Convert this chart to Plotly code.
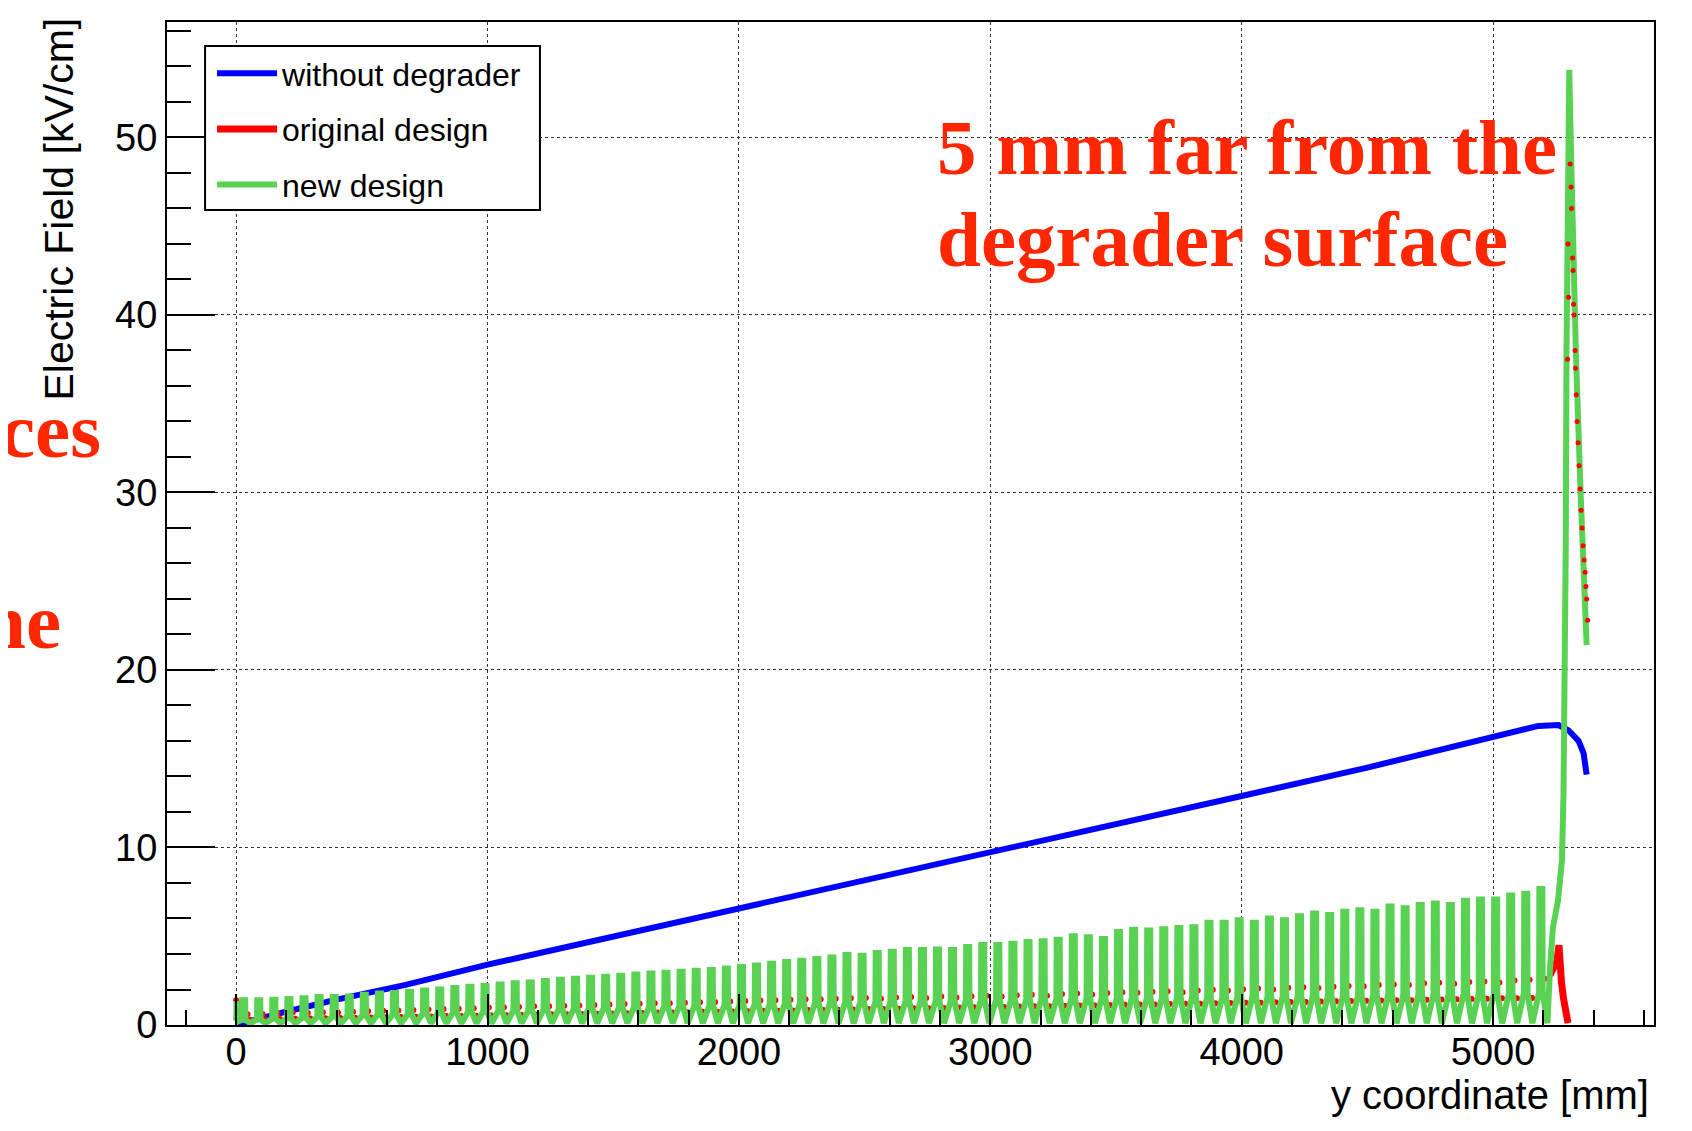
import plotly.graph_objects as go

# without degrader
blue_x = [0, 75, 190, 390, 670, 1000, 1500, 2000, 2500, 3000, 3500, 4000, 4500,
          4950, 5100, 5180, 5260, 5300, 5340, 5360, 5372]
blue_y = [0.0, 0.3, 0.72, 1.4, 2.25, 3.4, 4.97, 6.55, 8.15, 9.72, 11.3, 12.9, 14.5,
          16.05, 16.55, 16.85, 16.9, 16.6, 16.0, 15.3, 14.1]

# new design: one spike per electrode ring
spike_x = [30, 90, 150, 210, 270, 330, 390, 450, 510, 570,
           630, 690, 750, 810, 870, 930, 990, 1050, 1110, 1170,
           1230, 1290, 1350, 1410, 1470, 1530, 1590, 1650, 1710, 1770,
           1830, 1890, 1950, 2010, 2070, 2130, 2190, 2250, 2310, 2370,
           2430, 2490, 2550, 2610, 2670, 2730, 2790, 2850, 2910, 2970,
           3030, 3090, 3150, 3210, 3270, 3330, 3390, 3450, 3510, 3570,
           3630, 3690, 3750, 3810, 3870, 3930, 3990, 4050, 4110, 4170,
           4230, 4290, 4350, 4410, 4470, 4530, 4590, 4650, 4710, 4770,
           4830, 4890, 4950, 5010, 5070, 5130, 5190]
green_peak = [1.40, 1.40, 1.42, 1.46, 1.50, 1.58, 1.58, 1.60, 1.70, 1.78,
              1.80, 1.88, 1.95, 2.00, 2.08, 2.15, 2.20, 2.28, 2.35, 2.40,
              2.48, 2.55, 2.60, 2.66, 2.72, 2.78, 2.85, 2.90, 2.95, 3.00,
              3.05, 3.10, 3.18, 3.27, 3.35, 3.45, 3.55, 3.62, 3.72, 3.80,
              3.94, 3.90, 4.05, 4.12, 4.22, 4.22, 4.25, 4.22, 4.40, 4.50,
              4.50, 4.58, 4.67, 4.72, 4.80, 5.00, 4.95, 4.85, 5.24, 5.36,
              5.32, 5.40, 5.46, 5.50, 5.76, 5.76, 5.90, 5.76, 6.00, 5.90,
              6.12, 6.28, 6.20, 6.38, 6.47, 6.38, 6.67, 6.57, 6.76, 6.85,
              6.76, 7.00, 7.07, 7.07, 7.30, 7.40, 7.66]
green_base = [0.30, 0.32, 0.35, 0.38, 0.42, 0.45, 0.48, 0.50, 0.55, 0.58,
              0.60, 0.62, 0.66, 0.70, 0.72, 0.75, 0.78, 0.80, 0.82, 0.85,
              0.88, 0.90, 0.92, 0.95, 0.98, 1.00, 1.02, 1.04, 1.06, 1.08,
              1.10, 1.12, 1.14, 1.16, 1.18, 1.20, 1.22, 1.24, 1.26, 1.28,
              1.30, 1.30, 1.32, 1.34, 1.36, 1.36, 1.38, 1.38, 1.40, 1.42,
              1.42, 1.44, 1.45, 1.46, 1.48, 1.50, 1.50, 1.50, 1.52, 1.54,
              1.54, 1.55, 1.56, 1.56, 1.58, 1.58, 1.60, 1.60, 1.62, 1.62,
              1.64, 1.65, 1.65, 1.66, 1.68, 1.68, 1.70, 1.70, 1.72, 1.74,
              1.74, 1.76, 1.78, 1.78, 1.80, 1.82, 1.85]
green_trough = 0.1
green_head_x = [0, 2, 8]
green_head_y = [0.25, 1.35, 0.2]
green_tail_x = [5226, 5238, 5258, 5274, 5280, 5285, 5289, 5292, 5296, 5303,
                5310, 5318, 5330, 5348, 5360, 5372]
green_tail_y = [3.1, 5.5, 7.0, 9.3, 13.0, 18.0, 27.0, 38.0, 48.0, 53.8,
                49.0, 44.0, 37.5, 30.0, 25.5, 21.4]

# original design
red_hi = [0.60, 0.62, 0.65, 0.70, 0.68, 0.72, 0.70, 0.75, 0.78, 0.80,
          0.82, 0.85, 0.88, 0.90, 0.92, 0.95, 0.98, 1.00, 1.02, 1.05,
          1.05, 1.08, 1.10, 1.12, 1.15, 1.18, 1.20, 1.22, 1.22, 1.25,
          1.28, 1.30, 1.32, 1.35, 1.38, 1.40, 1.42, 1.45, 1.45, 1.48,
          1.50, 1.52, 1.48, 1.55, 1.58, 1.52, 1.60, 1.55, 1.62, 1.65,
          1.60, 1.68, 1.70, 1.65, 1.75, 1.78, 1.72, 1.80, 1.85, 1.82,
          1.88, 1.90, 1.85, 1.95, 1.98, 1.95, 2.02, 2.05, 2.00, 2.10,
          2.12, 2.08, 2.15, 2.20, 2.18, 2.25, 2.28, 2.25, 2.35, 2.38,
          2.32, 2.42, 2.45, 2.40, 2.50, 2.55, 2.60]
red_lo = [0.30, 0.32, 0.34, 0.35, 0.36, 0.38, 0.40, 0.40, 0.42, 0.44,
          0.45, 0.46, 0.48, 0.50, 0.50, 0.52, 0.54, 0.55, 0.56, 0.58,
          0.60, 0.60, 0.62, 0.64, 0.65, 0.66, 0.68, 0.70, 0.70, 0.72,
          0.74, 0.75, 0.76, 0.78, 0.80, 0.80, 0.82, 0.84, 0.85, 0.86,
          0.88, 0.90, 0.90, 0.92, 0.94, 0.95, 0.96, 0.98, 1.00, 1.00,
          1.02, 1.04, 1.05, 1.06, 1.08, 1.10, 1.10, 1.12, 1.14, 1.15,
          1.16, 1.18, 1.20, 1.20, 1.22, 1.24, 1.25, 1.26, 1.28, 1.30,
          1.30, 1.32, 1.34, 1.35, 1.36, 1.38, 1.40, 1.40, 1.42, 1.44,
          1.45, 1.46, 1.48, 1.50, 1.50, 1.52, 1.55]
red_start_x = [0]
red_start_y = [1.4]
red_tail_x = [5226, 5240, 5254, 5262, 5266, 5272, 5280, 5290, 5298]
red_tail_y = [2.8, 3.2, 3.6, 4.5, 3.4, 2.4, 1.5, 0.6, 0.1]
red_top_x = [5306, 5310, 5312, 5298, 5316, 5318, 5300, 5320, 5322, 5296,
             5326, 5328, 5331, 5334, 5338, 5342, 5346, 5350, 5354, 5358,
             5362, 5366, 5369, 5372, 5376]
red_top_y = [48.5, 47.2, 46.0, 44.0, 43.2, 42.5, 41.0, 40.6, 40.0, 37.5,
             38.0, 37.0, 35.5, 34.0, 32.8, 31.5, 30.2, 29.0, 28.0, 27.0,
             26.2, 25.5, 24.7, 24.0, 22.8]

BLUE = "rgb(0,0,255)"
RED = "rgb(255,0,0)"
GREEN = "rgb(89,210,84)"
TXT_RED = "#FF2600"
SANS = "Liberation Sans, Arial, Helvetica, sans-serif"
SERIF = "Liberation Serif, Times New Roman, serif"

# the page body has an 8px margin, so the figure is 8px smaller than the window
W, H = 1684, 1123

# build the spike polyline for the new design
gx, gy = list(green_head_x), list(green_head_y)
for xc, pk, bs in zip(spike_x, green_peak, green_base):
    gx += [xc - 7, xc - 6, xc + 6, xc + 7, xc + 26]
    gy += [bs, pk, pk, bs, green_trough]
gx += green_tail_x
gy += green_tail_y

rx, ry = list(red_start_x), list(red_start_y)
for xc, hi, lo in zip(spike_x, red_hi, red_lo):
    rx += [xc + 15, xc + 25]
    ry += [hi, lo]

fig = go.Figure()
fig.add_trace(go.Scatter(x=blue_x, y=blue_y, mode="lines", name="without degrader",
                         line=dict(color=BLUE, width=6), legendgroup="a"))
fig.add_trace(go.Scatter(x=red_tail_x, y=red_tail_y, mode="lines", name="original design",
                         line=dict(color=RED, width=7), legendgroup="b"))
fig.add_trace(go.Scatter(x=rx, y=ry, mode="markers", showlegend=False, legendgroup="b",
                         marker=dict(color=RED, size=6, line=dict(width=0))))
fig.add_trace(go.Scatter(x=gx, y=gy, mode="lines", name="new design",
                         line=dict(color=GREEN, width=6), legendgroup="c"))
fig.add_trace(go.Scatter(x=red_top_x, y=red_top_y, mode="markers", showlegend=False,
                         legendgroup="b", marker=dict(color=RED, size=5, line=dict(width=0))))

axis_common = dict(showline=True, linecolor="black", linewidth=2, mirror=True,
                   ticks="inside", tickcolor="black", tickwidth=2,
                   showgrid=True, gridcolor="#333333", gridwidth=1, griddash="dot",
                   zeroline=False, tickfont=dict(size=38, family=SANS, color="black"))
fig.update_xaxes(range=[-275, 5640], dtick=1000, tick0=0, ticklen=31,
                 ticklabelstandoff=-8,
                 minor=dict(dtick=200, tick0=0, ticks="inside", ticklen=15,
                            tickwidth=2, tickcolor="black", showgrid=False),
                 **axis_common)
fig.update_yaxes(range=[0, 56.5], dtick=10, tick0=0, ticklen=48,
                 minor=dict(dtick=2, tick0=0, ticks="inside", ticklen=24,
                            tickwidth=2, tickcolor="black", showgrid=False),
                 **axis_common)

fig.update_layout(
    width=W, height=H,
    margin=dict(l=159, r=38, t=14, b=106),
    paper_bgcolor="white", plot_bgcolor="white",
    font=dict(family=SANS, color="black"),
    legend=dict(x=0.0303, y=0.976, xanchor="left", yanchor="top",
                bgcolor="rgba(0,0,0,0)", borderwidth=0,
                font=dict(size=32, family=SANS, color="black"),
                traceorder="grouped", tracegroupgap=11, itemwidth=60),
    # legend frame, drawn as a box so it can be as wide as the original one
    shapes=[dict(type="rect", xref="paper", yref="paper",
                 x0=0.0256, x1=0.2508, y0=0.8126, y1=0.9761,
                 fillcolor="white", line=dict(color="black", width=2),
                 layer="above")],
    annotations=[
        dict(text="Electric Field [kV/cm]", textangle=-90, xref="paper", yref="paper",
             x=-0.0726, y=1.006, xanchor="center", yanchor="top", showarrow=False,
             font=dict(size=41, family=SANS, color="black")),
        dict(text="y coordinate [mm]", xref="paper", yref="paper",
             x=0.998, y=-0.0698, xanchor="right", yanchor="middle", showarrow=False,
             font=dict(size=40, family=SANS, color="black")),
        dict(text="<b>5 mm far from the</b>", xref="paper", yref="paper",
             x=0.5165, y=0.8744, xanchor="left", yanchor="middle", showarrow=False,
             font=dict(size=79, family=SERIF, color=TXT_RED)),
        dict(text="<b>degrader surface</b>", xref="paper", yref="paper",
             x=0.5165, y=0.7827, xanchor="left", yanchor="middle", showarrow=False,
             font=dict(size=79, family=SERIF, color=TXT_RED)),
        dict(text="<b>ces</b>", xref="paper", yref="paper",
             x=(103 - 167) / 1487, y=1 - (430 - 22) / 1003, xanchor="right",
             yanchor="middle", showarrow=False,
             font=dict(size=79, family=SERIF, color=TXT_RED)),
        dict(text="<b>ne</b>", xref="paper", yref="paper",
             x=(63 - 167) / 1487, y=1 - (621 - 22) / 1003, xanchor="right",
             yanchor="middle", showarrow=False,
             font=dict(size=79, family=SERIF, color=TXT_RED)),
    ],
)

fig.write_html("out.html")
